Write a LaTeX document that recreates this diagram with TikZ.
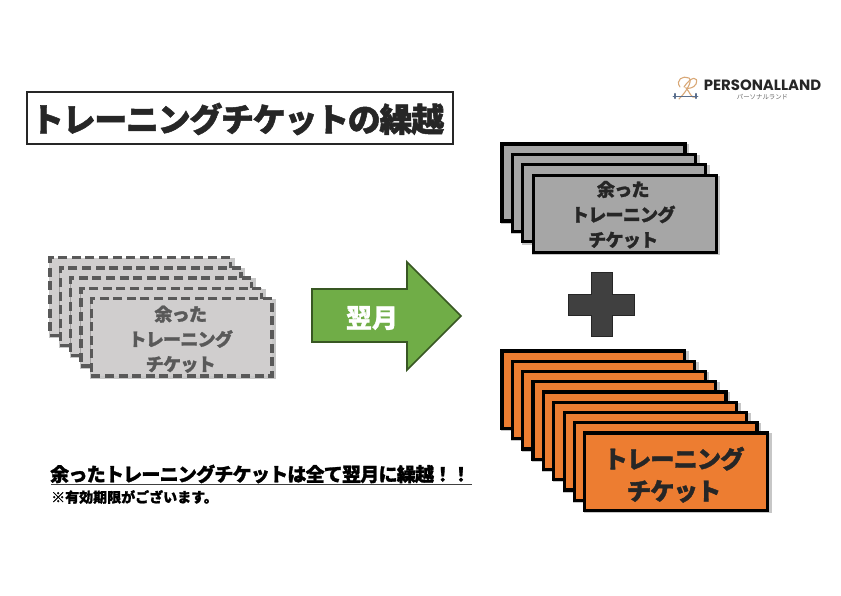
\documentclass[tikz,border=0pt]{standalone}
\usepackage{fontspec}
\setmainfont{Noto Sans CJK JP}[BoldFont={Noto Sans CJK JP Black},BoldFeatures={FakeBold=1.2}]
\newfontfamily\tightfont{Noto Sans CJK JP Black}[FakeBold=1.5,LetterSpace=-4]
\newfontfamily\logofont{Poppins}
\newfontfamily\jpfont{Noto Sans CJK JP}
\usetikzlibrary{shadows}
\tikzset{
  softshadow/.style={general shadow={fill=black,opacity=.22,shadow xshift=1.5pt,shadow yshift=-1.5pt,shadow scale=1.03}},
  card/.style={rectangle,anchor=north west,outer sep=0pt,inner sep=0pt,minimum width=#1},
  oldcard/.style={card=180.6pt,minimum height=77.5pt,draw=oldline,fill=oldfill,line width=3.4pt,dash pattern=on 9pt off 4.6pt,softshadow},
  greycard/.style={card=183pt,minimum height=77pt,draw=black,fill=greyfill,line width=3.2pt,softshadow},
  orangecard/.style={card=182.5pt,minimum height=77.5pt,draw=black,fill=orangefill,line width=3.2pt,softshadow},
  cardlabel/.style={inner sep=0pt,align=center},
  oldlabel/.style={cardlabel,text=oldtext,font=\fontsize{18}{25}\selectfont\tightfont},
  greylabel/.style={cardlabel,text=darktext,font=\fontsize{18}{25.2}\selectfont\tightfont},
  orangelabel/.style={cardlabel,text=darktext,font=\fontsize{24.3}{32}\selectfont\tightfont},
  titlebox/.style={rectangle,draw=darktext,line width=1.4pt,fill=white,minimum width=426pt,minimum height=52pt,inner sep=0pt,outer sep=0pt},
  titletext/.style={inner sep=0pt,text=darktext,font=\fontsize{33}{38}\selectfont\tightfont},
  stepshape/.style={draw=greenline,line width=1.7pt,fill=greenfill},
  plusshape/.style={draw=black!85,line width=.8pt,fill=plusfill},
  arrowtext/.style={text=white,font=\fontsize{26}{30}\selectfont\bfseries,inner sep=0pt},
  note/.style={anchor=west,inner sep=0pt,text=black},
}
\definecolor{oldline}{HTML}{595959}
\definecolor{oldfill}{HTML}{D0CECE}
\definecolor{oldtext}{HTML}{595959}
\definecolor{greyfill}{HTML}{A6A6A6}
\definecolor{darktext}{HTML}{262626}
\definecolor{orangefill}{HTML}{ED7D31}
\definecolor{greenfill}{HTML}{70AD47}
\definecolor{greenline}{HTML}{385723}
\definecolor{plusfill}{HTML}{404040}
\definecolor{logotan}{HTML}{D9A877}
\definecolor{logoblue}{HTML}{5A6E8C}
\begin{document}
\begin{tikzpicture}[x=1pt,y=-1pt]
\useasboundingbox (0,0) rectangle (841,595);
\fill[white] (0,0) rectangle (841,595);
% title
\node[titlebox] (title) at (240,118) {};
\node[titletext] (titlelabel) at (237.5,119) {トレーニングチケットの繰越};
% left stack
\foreach \i in {0,...,4}
  \node[oldcard] (old\i) at ({50+10.35*\i},{257.7+10.2*\i}) {};
\node[oldlabel] (oldlabel) at ([xshift=-1pt,yshift=-2pt]old4.center) {余った\\トレーニング\\チケット};
% arrow
\path[stepshape] (312,289) -- (407,289) -- (407,262) -- (461,316) -- (407,370) -- (407,342) -- (312,342) -- cycle;
\node[arrowtext] (nextmonth) at (372,318) {翌月};
% top-right stack
\foreach \i in {0,...,3}
  \node[greycard] (grey\i) at ({502+10.4*\i},{144+10.4*\i}) {};
\node[greylabel] (greylabel) at ([xshift=-1.5pt,yshift=-1pt]grey3.center) {余った\\トレーニング\\チケット};
% plus
\path[plusshape] (591,272) -- (612,272) -- (612,294) -- (634,294) -- (634,315) -- (612,315) -- (612,336) -- (591,336) -- (591,315) -- (568,315) -- (568,294) -- (591,294) -- cycle;
% orange stack
\foreach \i in {0,...,8}
  \node[orangecard] (orange\i) at ({502+10.35*\i},{351+10.25*\i}) {};
\node[orangelabel] (orangelabel) at ([xshift=-2pt,yshift=-3pt]orange8.center) {トレーニング\\チケット};
% note
\node[note,font=\fontsize{19}{22}\selectfont\tightfont] (remark) at (50,474) {余ったトレーニングチケットは全て翌月に繰越！！};
\coordinate (ruleA) at (51,484.5);
\coordinate (ruleB) at (472,484.5);
\draw[line width=1.1pt,black!75] (ruleA) -- (ruleB);
\node[note,font=\fontsize{14}{16}\selectfont\bfseries] (limit) at (51,497) {※有効期限がございます。};
% logo
\begin{scope}[line cap=round]
\draw[logotan,line width=1.1pt] (680,87) .. controls (675,80) and (683,75) .. (689,78) .. controls (693,81) and (686,92) .. (679,99);
\draw[logotan,line width=1.1pt] (684,87) .. controls (691,76) and (699,76) .. (696,84) .. controls (694,88) and (688,89) .. (686,88) .. controls (690,92) and (691,99) .. (696,97);
\draw[logoblue,line width=.8pt] (673,96) -- (698,96);
\draw[logoblue,line width=2.4pt] (675,94) -- (675,98) (696,94) -- (696,98);
\end{scope}
\node[inner sep=0pt,text=black!85] (logotext) at (762.5,85) {\logofont\bfseries\fontsize{14.9}{15}\selectfont PERSONALLAND};
\node[inner sep=0pt,text=black!60] (logosub) at (762.5,96.8) {\jpfont\fontsize{6.4}{7}\selectfont パーソナルランド};
\end{tikzpicture}
\end{document}
